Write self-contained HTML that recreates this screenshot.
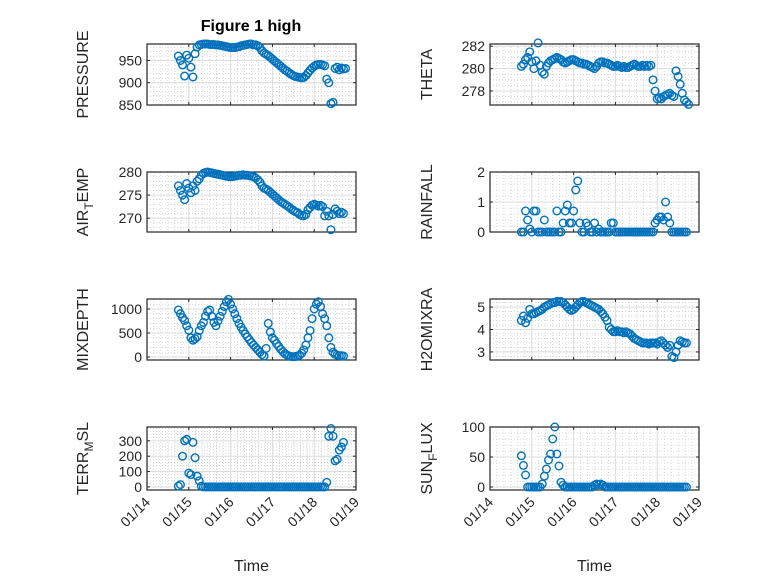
<!DOCTYPE html>
<html><head><meta charset="utf-8"><style>
body{margin:0;background:#fff;}
svg{display:block;font-family:"Liberation Sans",sans-serif;}
</style></head><body>
<svg id="fig" width="778" height="583" viewBox="0 0 778 583">
<rect width="778" height="583" fill="#fff"/>
<text x="251" y="31" text-anchor="middle" font-size="16" font-weight="bold" fill="#000">Figure 1 high</text>
</svg>
<script>
const xTickLabels=["01/14","01/15","01/16","01/17","01/18","01/19"];
const pressure=[960,950,940,915,962,955,935,913,965,980,985,986,987,987,987,986,986,986,985,985,984,983,982,981,980,979,979,979,980,981,983,984,985,986,987,987,985,985,983,979,972,967,964,961,957,953,949,945,941,937,933,929,926,922,919,916,914,913,912,911,912,916,922,928,933,937,940,941,941,940,938,908,900,853,856,932,935,929,933,931,932];
const theta=[280.2,280.4,280.8,281.0,281.5,280.6,280.0,280.7,282.3,280.3,279.7,279.5,280.2,280.5,280.7,280.8,280.9,281.0,280.9,280.8,280.6,280.5,280.6,280.7,280.8,280.8,280.7,280.6,280.5,280.5,280.4,280.4,280.3,280.2,280.1,280.0,280.2,280.5,280.6,280.6,280.5,280.5,280.4,280.3,280.2,280.2,280.3,280.2,280.1,280.2,280.1,280.1,280.2,280.3,280.4,280.3,280.2,280.2,280.3,280.2,280.3,280.2,280.3,279.0,278.0,277.3,277.4,277.3,277.5,277.6,277.7,277.8,277.6,277.5,279.8,279.3,278.6,277.8,277.2,277.0,276.8];
const airTemp=[277,276,275,274,277.5,276.5,275.5,277,276,278,278.5,279.3,279.7,279.9,280.0,279.9,279.8,279.7,279.6,279.5,279.4,279.3,279.2,279.1,279.0,279.0,279.0,279.1,279.2,279.3,279.3,279.4,279.3,279.3,279.2,279.1,279.0,278.7,278.3,277.8,277.0,276.5,276.3,276.0,275.6,275.2,274.8,274.4,274.0,273.6,273.3,273.0,272.7,272.4,272.0,271.7,271.4,271.2,270.8,270.6,270.5,270.8,271.8,272.3,272.8,273.0,272.8,272.6,272.8,272.5,270.5,271.5,270.5,267.5,270.8,272.0,271.5,271.0,271.3,271.0];
const rainfall=[0,0,0.7,0.4,0.1,0,0.7,0.7,0,0,0,0.4,0,0,0,0,0,0.7,0,0,0.3,0.7,0.9,0.3,0.3,0.7,1.4,1.7,0.3,0,0,0.3,0.2,0,0,0.3,0,0.1,0,0,0,0,0,0.3,0.3,0,0,0,0,0,0,0,0,0,0,0,0,0,0,0,0,0,0,0,0.3,0.4,0.5,0.5,0.4,1.0,0.5,0.3,0,0,0,0,0,0,0,0];
const mixDepth=[980,900,820,760,650,560,400,350,380,420,550,650,720,850,950,980,850,720,650,750,850,950,1050,1150,1200,1100,1000,900,800,700,620,550,480,420,360,300,250,200,150,100,50,20,180,700,520,400,350,280,220,160,110,70,40,20,10,5,10,20,40,80,150,250,400,550,800,1000,1100,1150,1050,900,800,650,400,200,100,60,40,30,30,20];
const h2oMix=[4.4,4.6,4.3,4.5,4.9,4.7,4.7,4.75,4.8,4.85,4.9,5.0,5.05,5.1,5.15,5.2,5.2,5.25,5.25,5.25,5.2,5.1,5.0,4.9,4.85,4.9,5.0,5.1,5.2,5.25,5.25,5.2,5.15,5.1,5.05,5.0,4.95,4.9,4.8,4.7,4.55,4.4,4.1,4.0,3.9,3.9,3.95,3.9,3.9,3.85,3.9,3.85,3.8,3.7,3.6,3.55,3.5,3.45,3.4,3.4,3.4,3.35,3.4,3.4,3.4,3.35,3.45,3.5,3.4,3.3,3.2,3.3,2.8,2.75,3.0,3.3,3.5,3.45,3.4,3.4];
const terrMsl=[5,15,200,300,310,90,80,290,190,70,40,5,0,0,0,0,0,0,0,0,0,0,0,0,0,0,0,0,0,0,0,0,0,0,0,0,0,0,0,0,0,0,0,0,0,0,0,0,0,0,0,0,0,0,0,0,0,0,0,0,0,0,0,0,0,0,0,0,0,0,0,30,330,380,330,170,180,240,260,290];
const sunFlux=[52,36,20,0,0,0,0,0,0,0,5,18,30,45,55,80,100,55,35,8,3,0,0,0,0,0,0,0,0,0,0,0,0,0,0,3,5,4,5,3,0,0,0,0,0,0,0,0,0,0,0,0,0,0,0,0,0,0,0,0,0,0,0,0,0,0,0,0,0,0,0,0,0,0,0,0,0,0,0,0];

const NS='http://www.w3.org/2000/svg';
const svg=document.getElementById('fig');
function mk(tag,attrs,parent){const e=document.createElementNS(NS,tag);for(const k in attrs)e.setAttribute(k,attrs[k]);(parent||svg).appendChild(e);return e;}

const panels=[
 {key:'pressure',data:pressure,label:['PRESSURE'],x0:147,y0:44,y1:105,ymin:850,ymax:987,ticks:[850,900,950],minor:10,lx:88},
 {key:'theta',data:theta,label:['THETA'],x0:490,y0:44,y1:105,ymin:276.75,ymax:282.2,ticks:[278,280,282],minor:0.5,lx:432},
 {key:'air-temp',data:airTemp,label:['AIR','T','EMP'],x0:147,y0:172,y1:232,ymin:267,ymax:280,ticks:[270,275,280],minor:1,lx:88},
 {key:'rainfall',data:rainfall,label:['RAINFALL'],x0:490,y0:172,y1:232,ymin:0,ymax:2,ticks:[0,1,2],minor:0.2,lx:432},
 {key:'mixdepth',data:mixDepth,label:['MIXDEPTH'],x0:147,y0:299,y1:360,ymin:-62,ymax:1208,ticks:[0,500,1000],minor:100,lx:88},
 {key:'h2omixra',data:h2oMix,label:['H2OMIXRA'],x0:490,y0:299,y1:360,ymin:2.64,ymax:5.36,ticks:[3,4,5],minor:0.2,lx:432},
 {key:'terr-msl',data:terrMsl,label:['TERR','M','SL'],x0:147,y0:427,y1:490,ymin:-20,ymax:390,ticks:[0,100,200,300],minor:20,lx:88},
 {key:'sun-flux',data:sunFlux,label:['SUN','F','LUX'],x0:490,y0:427,y1:490,ymin:-5,ymax:100,ticks:[0,50,100],minor:10,lx:432}
];
const W=209, DAYS=5, T0=0.75, DT=0.05;

panels.forEach((p,pi)=>{
 const g=mk('g',{});
 
 
 const xs=t=>p.x0+t*W/DAYS;
 const ys=v=>p.y1-(v-p.ymin)/(p.ymax-p.ymin)*(p.y1-p.y0);
 for(let d=0;d<DAYS;d++)for(let k=1;k<6;k++){const x=xs(d+k/6);mk('line',{x1:x,x2:x,y1:p.y0,y2:p.y1,stroke:'#bdbdbd','stroke-width':0.6,'stroke-dasharray':'1,2'},g);}
 const m0=Math.ceil(p.ymin/p.minor)*p.minor;
 for(let v=m0;v<=p.ymax+1e-9;v+=p.minor){const y=ys(v);mk('line',{x1:p.x0,x2:p.x0+W,y1:y,y2:y,stroke:'#bdbdbd','stroke-width':0.6,'stroke-dasharray':'1,2'},g);}
 for(let d=1;d<DAYS;d++){const x=xs(d);mk('line',{x1:x,x2:x,y1:p.y0,y2:p.y1,stroke:'#dcdcdc','stroke-width':1},g);}
 p.ticks.forEach(v=>{const y=ys(v);mk('line',{x1:p.x0,x2:p.x0+W,y1:y,y2:y,stroke:'#dcdcdc','stroke-width':1},g);});
 mk('rect',{x:p.x0,y:p.y0,width:W,height:p.y1-p.y0,fill:'none',stroke:'#262626','stroke-width':1.2},g);
 for(let d=0;d<=DAYS;d++){const x=xs(d);mk('line',{x1:x,x2:x,y1:p.y1,y2:p.y1-3,stroke:'#262626'},g);mk('line',{x1:x,x2:x,y1:p.y0,y2:p.y0+3,stroke:'#262626'},g);}
 p.ticks.forEach(v=>{const y=ys(v);mk('line',{x1:p.x0,x2:p.x0+3,y1:y,y2:y,stroke:'#262626'},g);mk('line',{x1:p.x0+W,x2:p.x0+W-3,y1:y,y2:y,stroke:'#262626'},g);
  const t=mk('text',{x:p.x0-5,y:y+5,'text-anchor':'end','font-size':14,fill:'#262626'},g);t.textContent=String(v);
  
  });
 const dg=mk('g',{},g);
 
 
 p.data.forEach((v,i)=>{
  const c=mk('circle',{cx:xs(T0+i*DT),cy:ys(v),r:3.8,fill:'none',stroke:'#0072BD','stroke-width':1.4},dg);
  
  
 });
 const cy=(p.y0+p.y1)/2;
 const lt=mk('text',{x:p.lx,y:cy,'text-anchor':'middle','font-size':16,fill:'#262626',transform:'rotate(-90 '+p.lx+' '+cy+')'},g);
 
 
 if(p.label.length===1){lt.textContent=p.label[0];}
 else{
  const a=mk('tspan',{},lt);a.textContent=p.label[0];
  const b=mk('tspan',{dy:5,'font-size':12},lt);b.textContent=p.label[1];
  const c=mk('tspan',{dy:-5},lt);c.textContent=p.label[2];
 }
 if(pi>=6){
  xTickLabels.forEach((s,d)=>{const x=xs(d)+4,y=p.y1+13;
   const t=mk('text',{x:x,y:y,'text-anchor':'end','font-size':14,fill:'#262626',transform:'rotate(-45 '+x+' '+y+')'},g);t.textContent=s;
   
   });
  const tt=mk('text',{x:p.x0+W/2,y:571,'text-anchor':'middle','font-size':16,fill:'#262626'},g);tt.textContent='Time';
  
  
 }
});
</script>
</body></html>
